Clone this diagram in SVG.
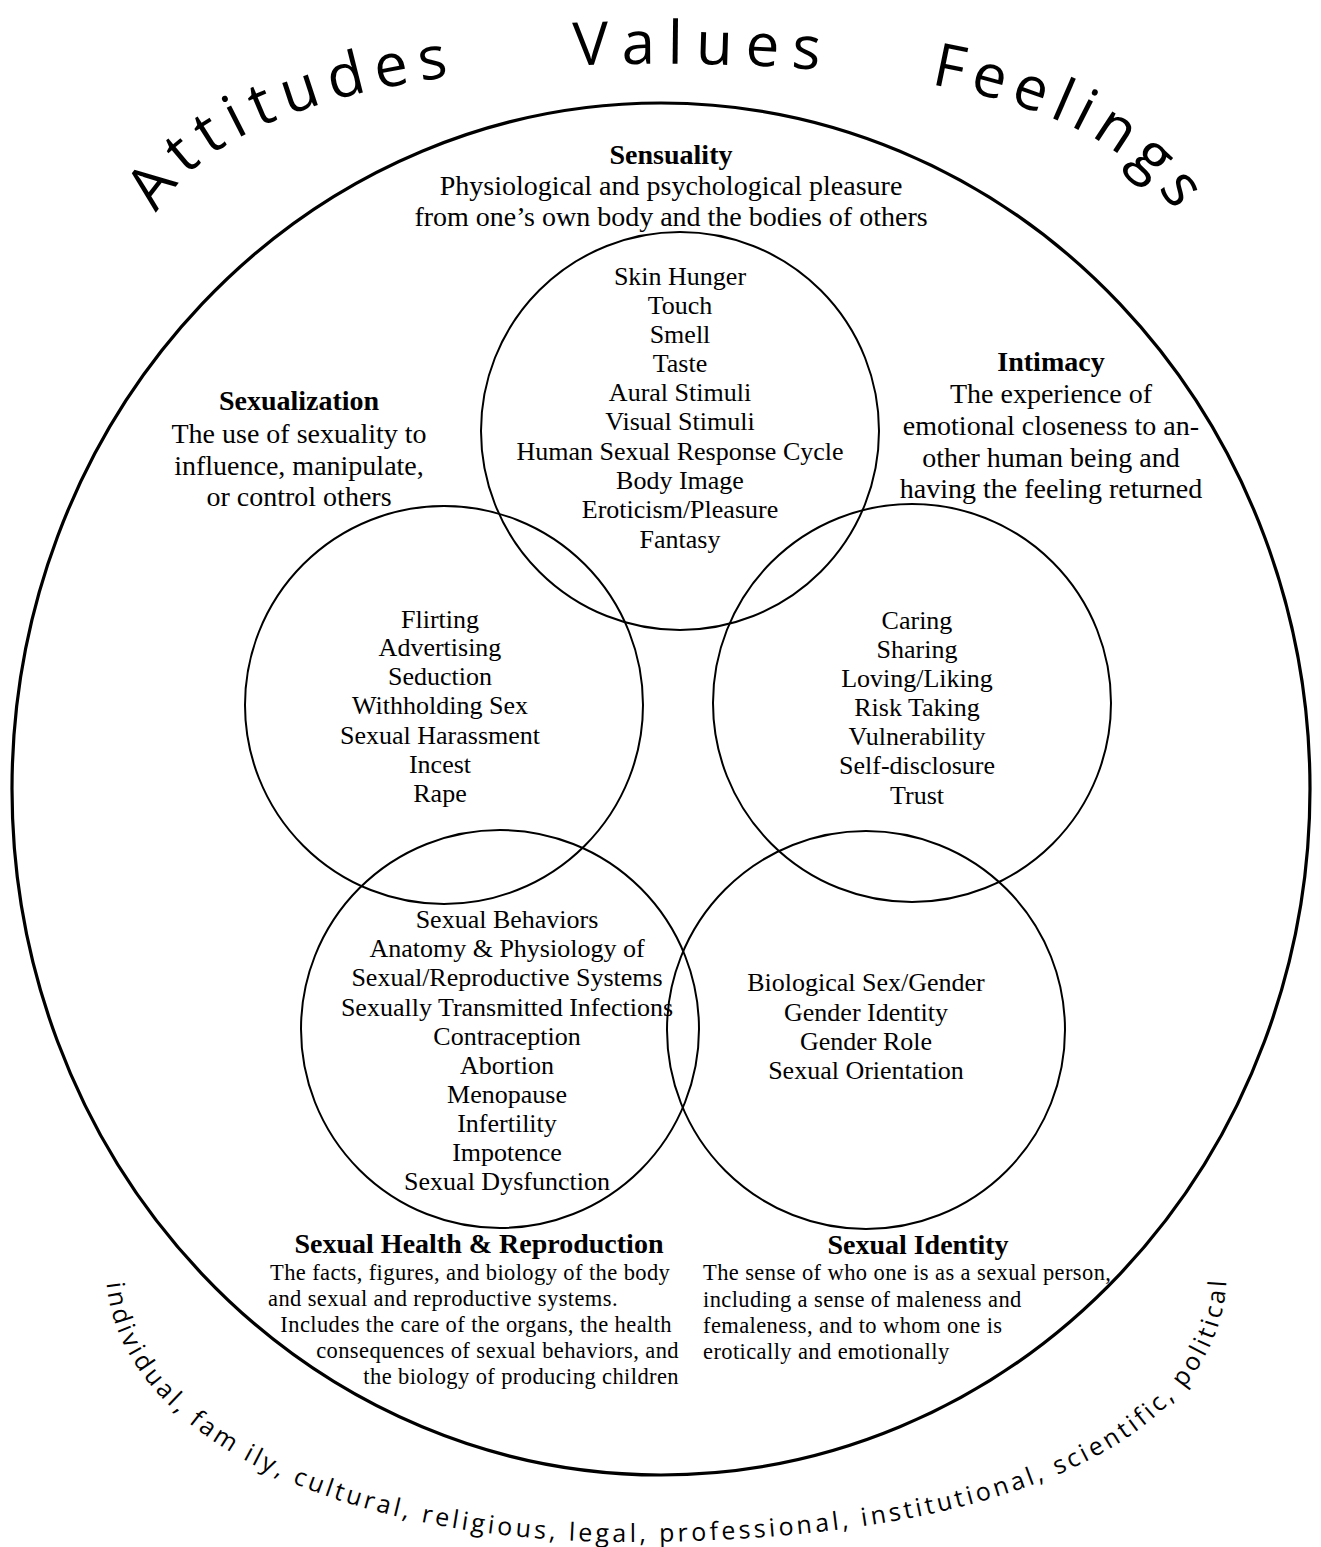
<svg xmlns="http://www.w3.org/2000/svg" width="1321" height="1547" viewBox="0 0 1321 1547">
<style>
  .bg{fill:#ffffff}
  .outer{fill:none;stroke:#000;stroke-width:3.2}
  .ring{fill:none;stroke:#000;stroke-width:2}
  .serif{font-family:"Liberation Serif","Times New Roman",serif;fill:#000}
  .item{font-size:26px;text-anchor:middle}
  .desc{font-size:28px;text-anchor:middle}
  .title{font-size:28px;font-weight:bold;text-anchor:middle;letter-spacing:0}
  .small{font-size:22.5px;letter-spacing:0.4px}
  .arc{font-family:"Open Sans","DejaVu Sans",sans-serif;fill:#000}
  .big{font-size:60px}
  .ctx{font-size:25px;letter-spacing:3.35px}
</style>
<defs>
  <path id="arcTop" d="M148,236 C190,105 430,60 690,64 C950,68 1144,111 1195,252" fill="none"/>
  <path id="arcBottom" d="M106,1268 C106,1430 330,1542 630,1542 C960,1542 1227,1460 1227,1268" fill="none"/>
</defs>
<rect class="bg" x="0" y="0" width="1321" height="1547"/>

<g id="context-labels">
  <text class="arc big" style="letter-spacing:10px"><textPath href="#arcTop" startOffset="24">Attitudes</textPath></text>
  <text class="arc big" style="letter-spacing:12.5px"><textPath href="#arcTop" startOffset="482">Values</textPath></text>
  <text class="arc big" style="letter-spacing:8px"><textPath href="#arcTop" startOffset="840">Feelings</textPath></text>
  <text class="arc ctx"><textPath href="#arcBottom" startOffset="15">individual, fam ily, cultural, religious, legal, professional, institutional, scientific, political</textPath></text>
</g>

<g id="node-outer">
  <ellipse class="outer" cx="661" cy="789" rx="649" ry="686"/>
</g>

<g id="node-sensuality">
  <circle class="ring" cx="680" cy="431" r="199"/>
  <text class="serif desc"><tspan class="title" x="671" y="164">Sensuality</tspan><tspan x="671" y="195">Physiological and psychological pleasure</tspan><tspan x="671" y="226">from one’s own body and the bodies of others</tspan></text>
  <text class="serif item"><tspan x="680" y="285">Skin Hunger</tspan><tspan x="680" y="314">Touch</tspan><tspan x="680" y="343">Smell</tspan><tspan x="680" y="372">Taste</tspan><tspan x="680" y="401">Aural Stimuli</tspan><tspan x="680" y="430">Visual Stimuli</tspan><tspan x="680" y="460">Human Sexual Response Cycle</tspan><tspan x="680" y="489">Body Image</tspan><tspan x="680" y="518">Eroticism/Pleasure</tspan><tspan x="680" y="548">Fantasy</tspan></text>
</g>

<g id="node-sexualization">
  <circle class="ring" cx="444" cy="705" r="199"/>
  <text class="serif desc"><tspan class="title" x="299" y="410">Sexualization</tspan><tspan x="299" y="443">The use of sexuality to</tspan><tspan x="299" y="475">influence, manipulate,</tspan><tspan x="299" y="506">or control others</tspan></text>
  <text class="serif item"><tspan x="440" y="628">Flirting</tspan><tspan x="440" y="656">Advertising</tspan><tspan x="440" y="685">Seduction</tspan><tspan x="440" y="714">Withholding Sex</tspan><tspan x="440" y="744">Sexual Harassment</tspan><tspan x="440" y="773">Incest</tspan><tspan x="440" y="802">Rape</tspan></text>
</g>

<g id="node-intimacy">
  <circle class="ring" cx="912" cy="703" r="199"/>
  <text class="serif desc"><tspan class="title" x="1051" y="371">Intimacy</tspan><tspan x="1051" y="403">The experience of</tspan><tspan x="1051" y="435">emotional closeness to an-</tspan><tspan x="1051" y="467">other human being and</tspan><tspan x="1051" y="498">having the feeling returned</tspan></text>
  <text class="serif item"><tspan x="917" y="629">Caring</tspan><tspan x="917" y="658">Sharing</tspan><tspan x="917" y="687">Loving/Liking</tspan><tspan x="917" y="716">Risk Taking</tspan><tspan x="917" y="745">Vulnerability</tspan><tspan x="917" y="774">Self-disclosure</tspan><tspan x="917" y="804">Trust</tspan></text>
</g>

<g id="node-health">
  <circle class="ring" cx="500" cy="1029" r="199"/>
  <text class="serif item"><tspan x="507" y="928">Sexual Behaviors</tspan><tspan x="507" y="957">Anatomy &amp; Physiology of</tspan><tspan x="507" y="986">Sexual/Reproductive Systems</tspan><tspan x="507" y="1016">Sexually Transmitted Infections</tspan><tspan x="507" y="1045">Contraception</tspan><tspan x="507" y="1074">Abortion</tspan><tspan x="507" y="1103">Menopause</tspan><tspan x="507" y="1132">Infertility</tspan><tspan x="507" y="1161">Impotence</tspan><tspan x="507" y="1190">Sexual Dysfunction</tspan></text>
  <text class="serif small"><tspan class="title" x="479" y="1253">Sexual Health &amp; Reproduction</tspan><tspan x="270" y="1280" text-anchor="start">The facts, figures, and biology of the body</tspan><tspan x="268" y="1306" text-anchor="start">and sexual and reproductive systems.</tspan><tspan x="672" y="1332" text-anchor="end">Includes the care of the organs, the health</tspan><tspan x="679" y="1358" text-anchor="end">consequences of sexual behaviors, and</tspan><tspan x="679" y="1384" text-anchor="end">the biology of producing children</tspan></text>
</g>

<g id="node-identity">
  <circle class="ring" cx="866" cy="1030" r="199"/>
  <text class="serif item"><tspan x="866" y="991">Biological Sex/Gender</tspan><tspan x="866" y="1021">Gender Identity</tspan><tspan x="866" y="1050">Gender Role</tspan><tspan x="866" y="1079">Sexual Orientation</tspan></text>
  <text class="serif small"><tspan class="title" x="918" y="1254">Sexual Identity</tspan><tspan x="703" y="1280" text-anchor="start">The sense of who one is as a sexual person,</tspan><tspan x="703" y="1307" text-anchor="start">including a sense of maleness and</tspan><tspan x="703" y="1333" text-anchor="start">femaleness, and to whom one is</tspan><tspan x="703" y="1359" text-anchor="start">erotically and emotionally</tspan></text>
</g>
</svg>
